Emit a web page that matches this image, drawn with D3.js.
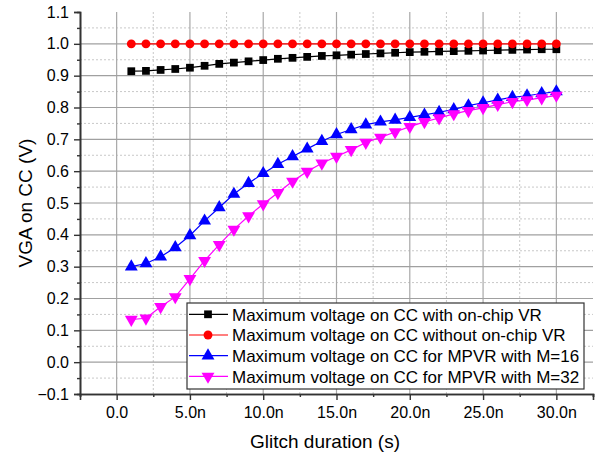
<!DOCTYPE html>
<html>
<head>
<meta charset="utf-8">
<script src="https://cdn.jsdelivr.net/npm/d3@7"></script>
<style>
  body { margin: 0; background: #fff; }
  svg text { font-family: "Liberation Sans", Arial, sans-serif; fill: #000; }
</style>
</head>
<body>
<svg id="chart" width="603" height="455"></svg>
<script>
// glitch duration in ns
const glitchNs = [1, 2, 3, 4, 5, 6, 7, 8, 9, 10, 11, 12, 13, 14, 15,
                  16, 17, 18, 19, 20, 21, 22, 23, 24, 25, 26, 27, 28, 29, 30];

const vWithVR = [0.914, 0.915, 0.918, 0.921, 0.925, 0.931, 0.937, 0.941, 0.945, 0.949,
                 0.953, 0.956, 0.959, 0.962, 0.964, 0.966, 0.968, 0.970, 0.972, 0.974,
                 0.975, 0.976, 0.977, 0.978, 0.979, 0.980, 0.981, 0.982, 0.983, 0.983];

const vWithoutVR = [1.0, 1.0, 1.0, 1.0, 1.0, 1.0, 1.0, 1.0, 1.0, 1.0,
                    1.0, 1.0, 1.0, 1.0, 1.0, 1.0, 1.0, 1.0, 1.0, 1.0,
                    1.0, 1.0, 1.0, 1.0, 1.0, 1.0, 1.0, 1.0, 1.0, 1.0];

const vMpvr16 = [0.300, 0.310, 0.331, 0.360, 0.398, 0.444, 0.486, 0.528, 0.562, 0.593,
                 0.622, 0.646, 0.670, 0.694, 0.715, 0.731, 0.746, 0.755, 0.761, 0.769,
                 0.777, 0.785, 0.794, 0.806, 0.815, 0.824, 0.832, 0.837, 0.844, 0.850];

const vMpvr32 = [0.134, 0.138, 0.174, 0.205, 0.262, 0.319, 0.369, 0.417, 0.459, 0.497,
                 0.532, 0.568, 0.599, 0.625, 0.646, 0.667, 0.690, 0.706, 0.723, 0.740,
                 0.755, 0.767, 0.780, 0.790, 0.799, 0.809, 0.818, 0.824, 0.830, 0.838];

const seriesNames = ["Maximum voltage on CC with on-chip VR",
                     "Maximum voltage on CC without on-chip VR",
                     "Maximum voltage on CC for MPVR with M=16",
                     "Maximum voltage on CC for MPVR with M=32"];
const seriesColors = ["#000000", "#ff0000", "#0000ff", "#ff00ff"];
const seriesSymbols = [d3.symbolSquare, d3.symbolCircle, d3.symbolTriangle, d3.symbolTriangle];

const xMajor = [0, 5, 10, 15, 20, 25, 30];
const xMinor = [-2.5, 2.5, 7.5, 12.5, 17.5, 22.5, 27.5, 32.5];
const yMajor = [-0.1, 0.0, 0.1, 0.2, 0.3, 0.4, 0.5, 0.6, 0.7, 0.8, 0.9, 1.0, 1.1];
const yMinor = [-0.05, 0.05, 0.15, 0.25, 0.35, 0.45, 0.55, 0.65, 0.75, 0.85, 0.95, 1.05];

const svg = d3.select("#chart");

const x = d3.scaleLinear().domain([-2.5, 32.5]).range([80, 593]);
const y = d3.scaleLinear().domain([-0.1, 1.1]).range([394, 12]);

// grid: minor dotted first, then major solid
const grid = svg.append("g");
grid.selectAll(".vminor").data(xMinor.filter(d => d > -2.5 && d < 32.5)).enter().append("line")
  .attr("x1", d => x(d)).attr("x2", d => x(d)).attr("y1", y(1.1)).attr("y2", y(-0.1))
  .attr("stroke", "#c8c8c8").attr("stroke-dasharray", "2,2");
grid.selectAll(".hminor").data(yMinor).enter().append("line")
  .attr("y1", d => y(d)).attr("y2", d => y(d)).attr("x1", x(-2.5)).attr("x2", x(32.5))
  .attr("stroke", "#c8c8c8").attr("stroke-dasharray", "2,2");
grid.selectAll(".vmajor").data(xMajor).enter().append("line")
  .attr("x1", d => x(d)).attr("x2", d => x(d)).attr("y1", y(1.1)).attr("y2", y(-0.1))
  .attr("stroke", "#a8a8a8").attr("stroke-width", 1.2);
grid.selectAll(".hmajor").data(yMajor.filter(d => d > -0.1 && d < 1.1)).enter().append("line")
  .attr("y1", d => y(d)).attr("y2", d => y(d)).attr("x1", x(-2.5)).attr("x2", x(32.5))
  .attr("stroke", "#a0a0a0").attr("stroke-width", 1.2);

// axes
const yAxis = svg.append("g").attr("transform", "translate(" + x(-2.5) + ",0)")
  .call(d3.axisLeft(y).tickValues(yMajor).tickSize(6).tickPadding(5).tickFormat(d3.format(".1f")));
const yAxisMinor = svg.append("g").attr("transform", "translate(" + x(-2.5) + ",0)")
  .call(d3.axisLeft(y).tickValues(yMinor).tickSize(3).tickFormat(""));
const xAxis = svg.append("g").attr("transform", "translate(0," + y(-0.1) + ")")
  .call(d3.axisBottom(x).tickValues(xMajor).tickSize(6).tickPadding(7)
    .tickFormat(d => d === 0 ? "0.0" : d.toFixed(1) + "n"));
const xAxisMinor = svg.append("g").attr("transform", "translate(0," + y(-0.1) + ")")
  .call(d3.axisBottom(x).tickValues(xMinor).tickSize(3).tickFormat(""));

[yAxis, yAxisMinor, xAxis, xAxisMinor].forEach(g => {
  g.select(".domain").attr("stroke", "#333").attr("stroke-width", 1.6);
  g.selectAll(".tick line").attr("stroke", "#333").attr("stroke-width", 1.4);
  g.selectAll(".tick text").attr("font-size", 16).attr("font-family", "Liberation Sans, Arial, sans-serif");
});

// series
const allSeries = [vWithVR, vWithoutVR, vMpvr16, vMpvr32];
const line = d3.line().x(d => x(d[0])).y(d => y(d[1]));

function drawMarker(g, i, cx, cy) {
  const sizes = [60, 62, 72, 72];
  g.append("path")
    .attr("d", d3.symbol().type(seriesSymbols[i]).size(sizes[i]))
    .attr("transform", "translate(" + cx + "," + cy + ")" + (i === 3 ? " rotate(180)" : ""))
    .attr("fill", seriesColors[i]);
}

allSeries.forEach((vals, i) => {
  const pts = glitchNs.map((t, k) => [t, vals[k]]);
  const g = svg.append("g");
  g.append("path").datum(pts).attr("d", line)
    .attr("fill", "none").attr("stroke", seriesColors[i]).attr("stroke-width", 1.2);
  pts.forEach(p => drawMarker(g, i, x(p[0]), y(p[1])));
});

// legend
const legend = svg.append("g");
legend.append("rect").attr("x", 187).attr("y", 303).attr("width", 397).attr("height", 86)
  .attr("fill", "#fff").attr("stroke", "#333").attr("stroke-width", 1.2);
seriesNames.forEach((name, i) => {
  const ly = 314.3 + i * 20.7;
  legend.append("line").attr("x1", 189).attr("x2", 228).attr("y1", ly).attr("y2", ly)
    .attr("stroke", seriesColors[i]).attr("stroke-width", 1.2);
  drawMarker(legend, i, 208, ly);
  legend.append("text").attr("x", 232).attr("y", ly + 6.4).attr("font-size", 17).text(name);
});

// axis titles
svg.append("text").attr("x", 325).attr("y", 448).attr("text-anchor", "middle")
  .attr("font-size", 19).text("Glitch duration (s)");
svg.append("text").attr("transform", "translate(32,203) rotate(-90)").attr("text-anchor", "middle")
  .attr("font-size", 19).text("VGA on CC (V)");
</script>
</body>
</html>
